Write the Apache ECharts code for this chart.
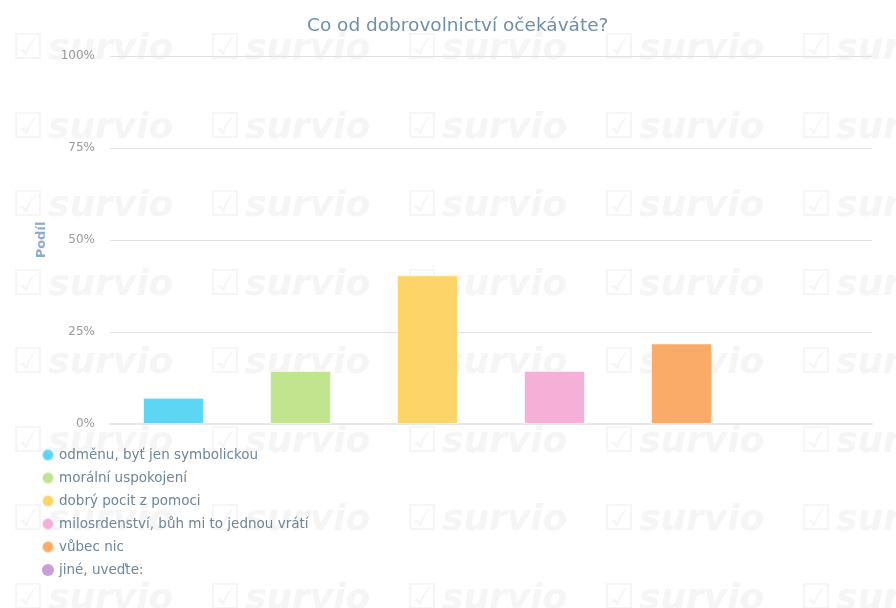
<!DOCTYPE html>
<html>
<head>
<meta charset="utf-8">
<script src="https://cdn.jsdelivr.net/npm/echarts@6/dist/echarts.min.js"></script>
<style>
  html, body { margin: 0; padding: 0; background: #fff; }
  #show { width: 896px; height: 608px; }
</style>
</head>
<body>
<div id="show"></div>
<script>
var myChart = echarts.init(document.getElementById("show"));

var categories = [
    "odměnu, byť jen symbolickou",
    "morální uspokojení",
    "dobrý pocit z pomoci",
    "milosrdenství, bůh mi to jednou vrátí",
    "vůbec nic",
    "jiné, uveďte:"
];
var values = [7.1, 14.4, 40.4, 14.4, 21.9, 0];
var colors = ["#5dd6f3", "#c2e48e", "#fdd467", "#f4b0d6", "#f9ab67", "#c79ed7"];
var yTicks = [0, 25, 50, 75, 100];

// watermark pattern in the background
var marks = [];
for (var r = 0; r < 8; r++) {
    for (var c = 0; c < 5; c++) {
        var x = 12 + c * 197, y = 50 + r * 78.5;
        marks.push({
            type: 'text', z: -10, silent: true,
            x: x, y: y,
            style: { text: '\u2611', fontSize: 36, fill: '#f5f5f5', verticalAlign: 'middle', fontFamily: 'DejaVu Sans' }
        });
        marks.push({
            type: 'text', z: -10, silent: true,
            x: x + 36, y: y,
            style: { text: 'survio', fontSize: 36, fontStyle: 'italic', fontWeight: 'bold', fill: '#f5f5f5', verticalAlign: 'middle', fontFamily: 'DejaVu Sans' }
        });
    }
}

var series = categories.map(function (name, i) {
    var d = values.map(function () { return '-'; });
    d[i] = values[i];
    return {
        name: name,
        type: 'bar',
        stack: 'all',
        data: d,
        barWidth: 61,
        itemStyle: {
            color: colors[i],
            borderColor: 'rgba(255,255,255,0.6)',
            borderWidth: values[i] > 0 ? 1 : 0
        }
    };
});

myChart.setOption({
    textStyle: { fontFamily: 'DejaVu Sans' },
    title: {
        text: 'Co od dobrovolnictví očekáváte?',
        left: 302,
        top: 12,
        textStyle: { color: '#6f8fa8', fontSize: 18.5, fontWeight: 'normal' }
    },
    graphic: marks,
    grid: { left: 110, right: 24, top: 56, bottom: 184 },
    legend: {
        orient: 'vertical',
        left: 36,
        top: 443,
        icon: 'circle',
        itemWidth: 12,
        itemHeight: 12,
        itemGap: 9,
        data: categories,
        textStyle: { color: '#6e8599', fontSize: 13.5 }
    },
    xAxis: {
        type: 'category',
        data: categories,
        axisLine: { lineStyle: { color: '#e3e7ee', width: 2 } },
        axisTick: { alignWithLabel: true, lineStyle: { color: '#cfd6df' }, length: 6 },
        axisLabel: { show: false }
    },
    yAxis: {
        type: 'value',
        min: 0,
        max: 100,
        interval: 25,
        name: 'Podíl',
        nameLocation: 'middle',
        nameGap: 62,
        nameTextStyle: { color: '#8eaccc', fontSize: 13, fontWeight: 'bold' },
        axisLabel: {
            color: '#999',
            fontSize: 12,
            margin: 15,
            formatter: function (v) { return yTicks.indexOf(v) >= 0 ? v + '%' : ''; }
        },
        splitLine: { lineStyle: { color: '#e0e0e0' } }
    },
    series: series
});
</script>
</body>
</html>
